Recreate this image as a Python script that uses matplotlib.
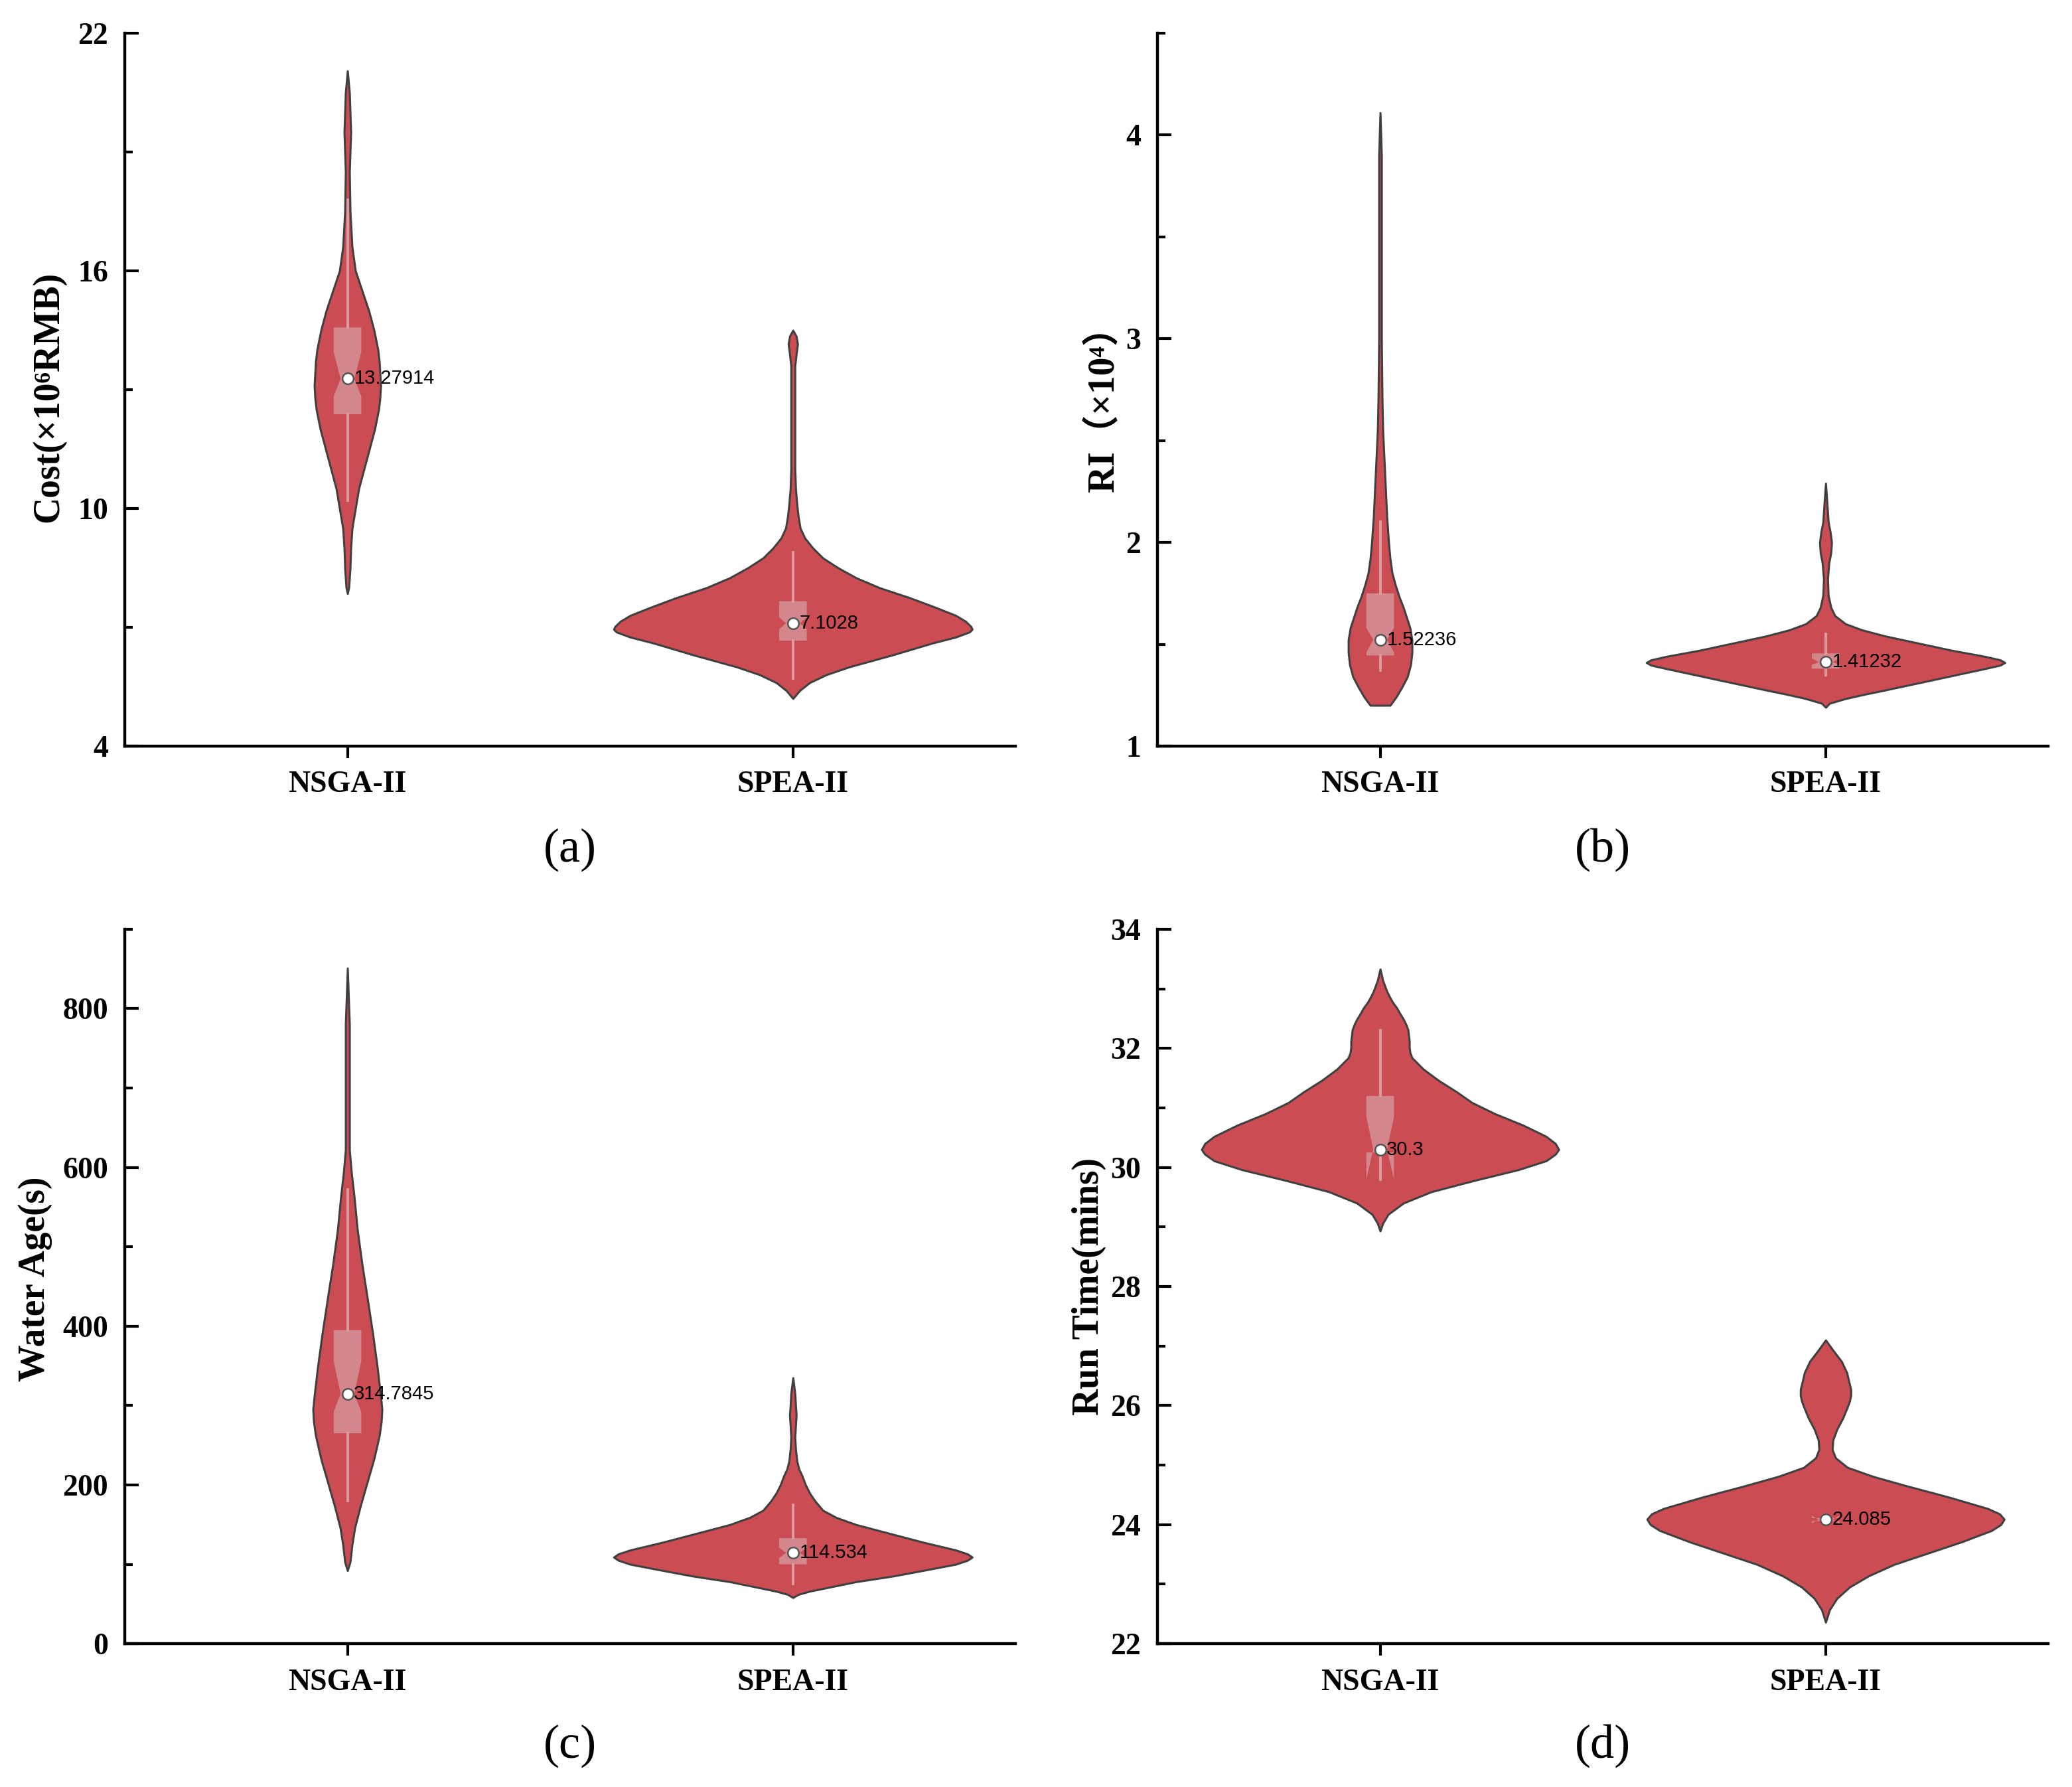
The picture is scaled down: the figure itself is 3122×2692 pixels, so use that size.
import matplotlib.pyplot as plt
import numpy as np

# =========================
# 1. Data
# =========================
categories = ["NSGA-II", "SPEA-II"]
positions = [1, 2]

# violin outlines: value levels (y) and relative density (d)
cost_nsga_y = [7.85, 8.0, 8.5, 9.0, 9.5, 10.0, 10.5, 11.0, 11.5, 12.0, 12.5, 12.8,
               13.1, 13.4, 13.7, 14.0, 14.5, 15.0, 15.5, 16.0, 16.6, 17.5, 18.5,
               19.0, 19.5, 20.0, 20.5, 21.05]
cost_nsga_d = [0, 2, 4, 5, 7, 12, 17, 25, 33, 41, 47, 49, 50, 49, 48, 46, 40, 32,
               22, 12, 7, 4, 3, 4, 5, 4, 3, 0]
cost_spea_y = [5.2, 5.4, 5.6, 5.8, 6.0, 6.3, 6.6, 6.75, 6.88, 6.95, 7.02, 7.15, 7.3,
               7.5, 7.75, 8.0, 8.25, 8.5, 8.75, 9.0, 9.25, 9.5, 9.8, 10.1, 10.5,
               11.0, 12.5, 13.6, 13.9, 14.15, 14.35, 14.5]
cost_spea_d = [0, 10, 25, 50, 85, 150, 210, 245, 266, 270, 268, 260, 245, 215, 175,
               130, 95, 68, 45, 30, 18, 11, 8, 6, 4, 3, 3, 3, 5, 7, 5, 0]

ri_nsga_y = [1.2, 1.24, 1.29, 1.34, 1.40, 1.46, 1.52, 1.58, 1.63, 1.68, 1.73, 1.79,
             1.85, 1.92, 1.99, 2.13, 2.27, 2.41, 2.55, 2.7, 3.0, 3.5, 3.9, 4.11]
ri_nsga_d = [15, 24, 33, 41, 46, 48, 48, 45, 40, 35, 29, 23, 18, 15, 13, 10, 8, 6,
             4, 3, 2, 2, 2, 0]
ri_spea_y = [1.19, 1.21, 1.233, 1.255, 1.275, 1.31, 1.345, 1.38, 1.397, 1.41, 1.423,
             1.44, 1.47, 1.505, 1.54, 1.57, 1.6, 1.64, 1.68, 1.74, 1.82, 1.9, 1.95,
             2.0, 2.05, 2.1, 2.2, 2.29]
ri_spea_d = [0, 6, 30, 60, 90, 140, 190, 240, 263, 270, 263, 240, 190, 140, 90, 55,
             30, 14, 8, 4, 3, 5, 8, 9, 7, 4, 2, 0]

age_nsga_y = [92, 103, 125, 146, 175, 204, 233, 262, 280, 295, 312, 348, 391, 435,
              478, 521, 564, 593, 622, 700, 780, 851]
age_nsga_d = [0, 4, 7, 11, 20, 30, 40, 48, 51, 52, 50, 45, 38, 30, 22, 15, 10, 6,
              3, 3, 3, 0]
age_spea_y = [58, 62, 66, 72, 78, 85, 92, 100, 105, 109, 113, 118, 128, 139, 150,
              159, 168, 180, 190, 200, 211, 220, 230, 245, 260, 275, 288, 300, 315,
              335]
age_spea_d = [0, 8, 25, 60, 95, 150, 195, 245, 263, 270, 263, 245, 195, 145, 95, 65,
              45, 33, 25, 19, 14, 9, 6, 4, 3, 4, 5, 4, 3, 0]

time_nsga_y = [28.93, 29.06, 29.21, 29.40, 29.59, 29.78, 29.96, 30.11, 30.22, 30.30,
               30.40, 30.52, 30.71, 30.90, 31.09, 31.27, 31.46, 31.65, 31.84, 31.93,
               32.02, 32.12, 32.21, 32.31, 32.40, 32.49, 32.58, 32.68, 32.77, 32.87,
               32.96, 33.05, 33.14, 33.24, 33.33]
time_nsga_d = [0, 4, 12, 35, 77, 142, 208, 250, 264, 269, 264, 250, 215, 173, 138,
               115, 88, 65, 48, 45, 44, 44, 43, 42, 39, 35, 30, 25, 19, 14, 10, 7, 4,
               2, 0]
time_spea_y = [22.36, 22.57, 22.76, 22.95, 23.14, 23.33, 23.52, 23.71, 23.90, 24.0,
               24.09, 24.18, 24.27, 24.46, 24.65, 24.81, 24.96, 25.12, 25.26, 25.42,
               25.60, 25.79, 25.98, 26.07, 26.17, 26.27, 26.36, 26.45, 26.55, 26.74,
               26.93, 27.1]
time_spea_d = [0, 6, 17, 36, 65, 103, 154, 205, 250, 264, 269, 262, 244, 186, 122,
               71, 33, 15, 10, 11, 17, 26, 33, 36, 38, 38, 36, 34, 32, 24, 11, 0]

# box statistics per algorithm (NSGA-II, SPEA-II)
cost_median = [13.27914, 7.1028]
cost_q1 = [12.38, 6.66]
cost_q3 = [14.57, 7.66]
cost_notch = [(12.83, 13.95), (6.95, 7.25)]
cost_whisker = [(10.2, 17.8), (5.7, 8.9)]

ri_median = [1.52236, 1.41232]
ri_q1 = [1.445, 1.38]
ri_q3 = [1.75, 1.455]
ri_notch = [(1.46, 1.58), (1.40, 1.43)]
ri_whisker = [(1.37, 2.1), (1.35, 1.55)]

age_median = [314.7845, 114.534]
age_q1 = [265, 100]
age_q3 = [395, 133]
age_notch = [(292, 356), (108, 121)]
age_whisker = [(180, 572), (75, 175)]

time_median = [30.3, 24.085]
time_q1 = [30.25, 24.06]
time_q3 = [31.2, 24.11]
time_notch = [(29.8, 30.85), (24.02, 24.15)]
time_whisker = [(29.8, 32.3), (24.02, 24.15)]

# y ticks
cost_yticks = [4, 10, 16, 22]
cost_yminor = [7, 13, 19]
ri_yticks = [1, 2, 3, 4]
ri_yminor = [1.5, 2.5, 3.5, 4.5]
age_yticks = [0, 200, 400, 600, 800]
age_yminor = [100, 300, 500, 700, 900]
time_yticks = [22, 24, 26, 28, 30, 32, 34]
time_yminor = [23, 25, 27, 29, 31, 33]

# =========================
# 2. Styling
# =========================
VIOLIN_FC = "#CC4C53"
VIOLIN_EC = "#404040"
BOX_FC = "#D3878C"
WHISKER_C = "#DC9DA1"
DENS_TO_X = 1 / 671.0
SERIF = ["Liberation Serif", "DejaVu Serif", "Noto Sans CJK SC"]

panels = [
    dict(profiles=[(cost_nsga_y, cost_nsga_d), (cost_spea_y, cost_spea_d)],
         med=cost_median, q1=cost_q1, q3=cost_q3, notch=cost_notch, whis=cost_whisker,
         ylabel="Cost(×10⁶RMB)", ylim=(4, 22), yticks=cost_yticks, yminor=cost_yminor,
         rect=[0.0602, 0.5825, 0.430, 0.3989], lab_x=-0.066, lab_y=0.49, tag="(a)"),
    dict(profiles=[(ri_nsga_y, ri_nsga_d), (ri_spea_y, ri_spea_d)],
         med=ri_median, q1=ri_q1, q3=ri_q3, notch=ri_notch, whis=ri_whisker,
         ylabel="RI（×10⁴）", ylim=(1, 4.5), yticks=ri_yticks, yminor=ri_yminor,
         rect=[0.5586, 0.5825, 0.430, 0.3989], lab_x=-0.040, lab_y=0.485, tag="(b)"),
    dict(profiles=[(age_nsga_y, age_nsga_d), (age_spea_y, age_spea_d)],
         med=age_median, q1=age_q1, q3=age_q3, notch=age_notch, whis=age_whisker,
         ylabel="Water Age(s)", ylim=(0, 900), yticks=age_yticks, yminor=age_yminor,
         rect=[0.0602, 0.0802, 0.430, 0.3998], lab_x=-0.081, lab_y=0.51, tag="(c)"),
    dict(profiles=[(time_nsga_y, time_nsga_d), (time_spea_y, time_spea_d)],
         med=time_median, q1=time_q1, q3=time_q3, notch=time_notch, whis=time_whisker,
         ylabel="Run Time(mins)", ylim=(22, 34), yticks=time_yticks, yminor=time_yminor,
         rect=[0.5586, 0.0802, 0.430, 0.3998], lab_x=-0.057, lab_y=0.5, tag="(d)"),
]

# =========================
# 3. Plot
# =========================
fig = plt.figure(figsize=(15.61, 13.46), dpi=200)

for p in panels:
    ax = fig.add_axes(p["rect"])

    # violins from the read density profiles
    vpstats = []
    widths = []
    for (ys, ds), m in zip(p["profiles"], p["med"]):
        ys = np.asarray(ys, dtype=float)
        ds = np.asarray(ds, dtype=float)
        vpstats.append(dict(coords=ys, vals=ds, mean=m, median=m,
                            min=ys.min(), max=ys.max()))
        widths.append(2 * ds.max() * DENS_TO_X)
    parts = ax.violin(vpstats, positions=positions, widths=widths,
                      showmeans=False, showextrema=False, showmedians=False)
    for body in parts["bodies"]:
        body.set_facecolor(VIOLIN_FC)
        body.set_edgecolor(VIOLIN_EC)
        body.set_linewidth(1.1)
        body.set_joinstyle("round")
        body.set_alpha(1)
        body.set_zorder(1)

    # notched boxes inside the violins
    bstats = []
    for i in range(2):
        bstats.append(dict(med=p["med"][i], q1=p["q1"][i], q3=p["q3"][i],
                           cilo=p["notch"][i][0], cihi=p["notch"][i][1],
                           whislo=p["whis"][i][0], whishi=p["whis"][i][1],
                           fliers=[]))
    ax.bxp(bstats, positions=positions, widths=0.062, shownotches=True,
           patch_artist=True, showcaps=False, showfliers=False,
           boxprops=dict(facecolor=BOX_FC, edgecolor="none", linewidth=0),
           whiskerprops=dict(color=WHISKER_C, linewidth=1.4),
           medianprops=dict(linewidth=0), zorder=2, manage_ticks=False)

    # median markers and labels
    ax.plot(positions, p["med"], "o", ms=6, mfc="white", mec="#555555",
            mew=0.9, zorder=4, linestyle="none")
    for x, m in zip(positions, p["med"]):
        ax.annotate(str(m), (x, m), xytext=(3.5, 0), textcoords="offset points",
                    ha="left", va="center", fontsize=10.5,
                    family=["Liberation Sans", "DejaVu Sans"], color="black",
                    zorder=5)

    # axes styling
    ax.set_xlim(0.5, 2.5)
    ax.set_ylim(*p["ylim"])
    ax.set_xticks(positions)
    ax.set_xticklabels(categories)
    ax.set_yticks(p["yticks"])
    ax.set_yticks(p["yminor"], minor=True)
    for side in ["top", "right"]:
        ax.spines[side].set_visible(False)
    for side in ["left", "bottom"]:
        ax.spines[side].set_linewidth(1.6)
    ax.tick_params(axis="y", which="major", direction="in", length=7.5, width=1.5, pad=9)
    ax.tick_params(axis="y", which="minor", direction="in", length=4.3, width=1.5)
    ax.tick_params(axis="x", which="major", direction="out", length=6.5, width=1.5, pad=7)
    for t in ax.get_xticklabels() + ax.get_yticklabels():
        t.set_fontfamily(SERIF)
        t.set_fontweight("bold")
        t.set_fontsize(16.5)

    ax.set_ylabel(p["ylabel"], family=SERIF, fontweight="bold", fontsize=20)
    ax.yaxis.set_label_coords(p["lab_x"], p["lab_y"])

    r = p["rect"]
    tag_y = 0.5245 if r[1] > 0.5 else 0.023
    fig.text(r[0] + r[2] / 2, tag_y, p["tag"], ha="center", va="center",
             family=SERIF, fontsize=26)

fig.savefig("out.png", dpi=200, facecolor="white")
